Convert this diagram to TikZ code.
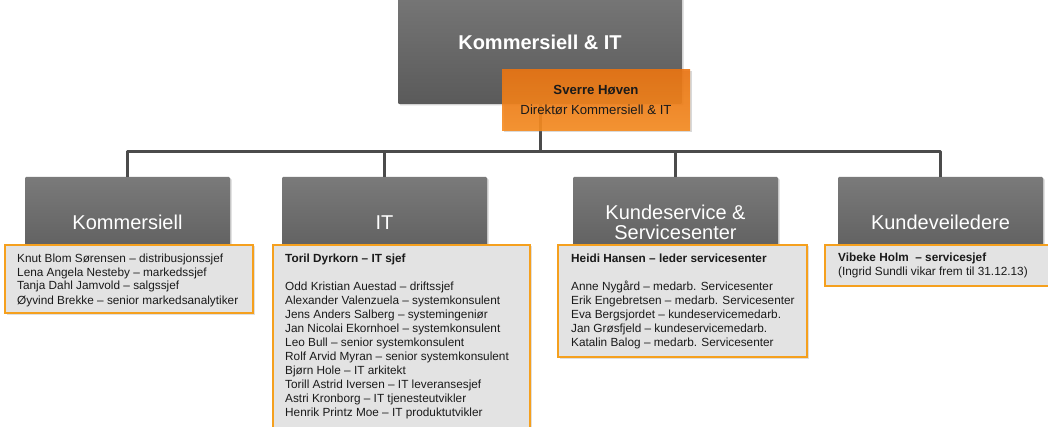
\documentclass[tikz,border=0pt]{standalone}
\usepackage{fontspec}
\setmainfont{Liberation Sans}
\usetikzlibrary{shadows}
\definecolor{gtop}{HTML}{7A7A7A}
\definecolor{gbot}{HTML}{5A5A5A}
\definecolor{otop}{HTML}{EC7410}
\definecolor{obot}{HTML}{F68C20}
\definecolor{obord}{HTML}{F5A01E}
\definecolor{lfill}{HTML}{E3E3E3}
\definecolor{conncol}{HTML}{4B4B4B}
\definecolor{txt}{HTML}{1A1A1A}
\tikzset{
  graybox/.style={rectangle, inner sep=0, rounded corners=1.2pt, top color=gtop, bottom color=gbot, draw=none,
    drop shadow={shadow xshift=1.5pt, shadow yshift=-1.5pt, opacity=0.35},
    text=white, align=center},
  headbox/.style={rectangle, inner sep=0, top color=otop, bottom color=obot, fill opacity=0.9, text opacity=1,
    drop shadow={shadow xshift=1.5pt, shadow yshift=-1.5pt, opacity=0.3},
    text=txt, align=center, font=\fontsize{13.2}{20}\selectfont},
  listbox/.style={rectangle, inner sep=0, fill=lfill, draw=obord, line width=1.6pt,
    drop shadow={shadow xshift=1.5pt, shadow yshift=-1.5pt, opacity=0.25}},
  listtxt/.style={anchor=north west, inner sep=0, align=left, text=txt, font=\fontsize{11.8}{14}\selectfont},
  conn/.style={draw=conncol, line width=3pt, line join=round},
  gtitle/.style={font=\fontsize{20}{20}\selectfont}
}
\begin{document}
\begin{tikzpicture}[x=1pt,y=-1pt]
\useasboundingbox (0,0) rectangle (1048,427);
\clip (0,0) rectangle (1048,427);
\coordinate (bus) at (540,152);
\node[graybox, minimum width=284pt, minimum height=124pt, font=\fontsize{20}{24}\selectfont\bfseries] (top) at (540,42) {Kommersiell \& IT};
\node[graybox, gtitle, minimum width=205pt, minimum height=91pt] (g1) at (127.5,222.5) {Kommersiell};
\node[graybox, gtitle, minimum width=205pt, minimum height=91pt] (g2) at (384.5,222.5) {IT};
\node[graybox, gtitle, minimum width=205pt, minimum height=91pt] (g3) at (675.5,222.5) {Kundeservice \&\\Servicesenter};
\node[graybox, gtitle, minimum width=205pt, minimum height=91pt] (g4) at (940.5,222.5) {Kundeveiledere};
\draw[conn] (top.south) -- (bus);
\draw[conn] (bus) -| (g1.north);
\draw[conn] (bus) -| (g2.north);
\draw[conn] (bus) -| (g3.north);
\draw[conn] (bus) -| (g4.north);
\node[headbox, minimum width=188pt, minimum height=61pt] (head) at (596,100.5) {\textbf{Sverre Høven}\\Direktør Kommersiell \& IT};
\node[listbox, minimum width=248pt, minimum height=68pt] (l1) at (129,279) {};
\node[listbox, minimum width=257pt, minimum height=195pt] (l2) at (401.5,342.5) {};
\node[listbox, minimum width=249pt, minimum height=112pt] (l3) at (682.5,301) {};
\node[listbox, minimum width=230pt, minimum height=41pt] (l4) at (940,265.5) {};
\node[listtxt] (t1) at (17,252) {\strut Knut Blom Sørensen – distribusjonssjef\\
Lena Angela Nesteby – markedssjef\\
Tanja Dahl Jamvold – salgssjef\\
Øyvind Brekke – senior markedsanalytiker};
\node[listtxt] (t2) at (285,252) {\strut\textbf{Toril Dyrkorn – IT sjef}\\[14pt]
Odd Kristian Auestad – driftssjef\\
Alexander Valenzuela – systemkonsulent\\
Jens Anders Salberg – systemingeniør\\
Jan Nicolai Ekornhoel – systemkonsulent\\
Leo Bull – senior systemkonsulent\\
Rolf Arvid Myran – senior systemkonsulent\\
Bjørn Hole – IT arkitekt\\
Torill Astrid Iversen – IT leveransesjef\\
Astri Kronborg – IT tjenesteutvikler\\
Henrik Printz Moe – IT produktutvikler};
\node[listtxt] (t3) at (571,252) {\strut\textbf{Heidi Hansen – leder servicesenter}\\[14pt]
Anne Nygård – medarb. Servicesenter\\
Erik Engebretsen – medarb. Servicesenter\\
Eva Bergsjordet – kundeservicemedarb.\\
Jan Grøsfjeld – kundeservicemedarb.\\
Katalin Balog – medarb. Servicesenter};
\node[listtxt] (t4) at (838,252) {\strut\textbf{Vibeke Holm\ \ – servicesjef}\\
(Ingrid Sundli vikar frem til 31.12.13)};
\end{tikzpicture}
\end{document}
